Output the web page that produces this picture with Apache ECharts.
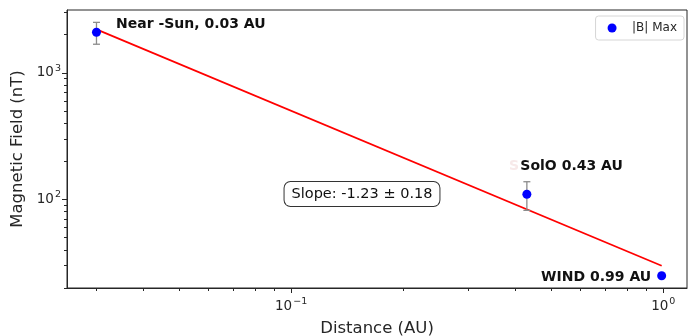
<!DOCTYPE html>
<html>
<head>
<meta charset="utf-8">
<script src="https://cdn.jsdelivr.net/npm/echarts@6/dist/echarts.min.js"></script>
<style>
  html, body { margin: 0; padding: 0; background: #fff; }
  #chart { width: 697px; height: 336px; }
</style>
</head>
<body>
<div id="chart"></div>
<script>
// spacecraft measurements
const labels = ['Near -Sun, 0.03 AU', 'SolO 0.43 AU', 'WIND 0.99 AU']
const distance = [0.03, 0.43, 0.99]
const bMax = [2090, 110, 25]
const bErr = [410, 28, 0]

// power-law fit drawn between its two ends
const fitX = [0.03, 0.99]
const fitY = [2200, 30]
const slopeText = 'Slope: -1.23 ± 0.18'

// ticks
const xMajorTicks = [0.1, 1]
const xMinorTicks = [0.03, 0.04, 0.05, 0.06, 0.07, 0.08, 0.09, 0.2, 0.3, 0.4, 0.5, 0.6, 0.7, 0.8, 0.9]
const yMajorTicks = [100, 1000]
const yMinorTicks = [20, 30, 40, 50, 60, 70, 80, 90, 200, 300, 400, 500, 600, 700, 800, 900, 2000, 3000]

const FONT = 'DejaVu Sans'
const INK = '#262626'

function powLabel(v) {
  const e = Math.round(Math.log10(v))
  if (Math.abs(Math.log10(v) - e) > 1e-6) return ''
  return '{b|10}{s|' + String(e).replace('-', '\u2212') + '}'
}
const rich = {
  b: { fontFamily: FONT, fontSize: 13.5, color: INK },
  s: { fontFamily: FONT, fontSize: 9.5, color: INK, padding: [0, 0, 9, 1] }
}

const labelLayout = [
  { position: 'right', offset: [10, -8] },
  { position: 'right', offset: [-16, -28] },
  { position: 'left', offset: [-1, 2] }
]

const points = distance.map((d, i) => ({
  value: [d, bMax[i]],
  label: {
    show: true,
    formatter: labels[i],
    position: labelLayout[i].position,
    offset: labelLayout[i].offset,
    fontFamily: FONT,
    fontWeight: 'bold',
    fontSize: 14,
    color: '#111'
  }
}))
const errData = []
distance.forEach((d, i) => {
  if (bErr[i] > 0) errData.push([d, bMax[i] - bErr[i], bMax[i] + bErr[i]])
})

const xBase = { type: 'log', logBase: 10, min: 0.025, max: 1.158, position: 'bottom', splitLine: { show: false } }
const yBase = { type: 'log', logBase: 10, min: 20, max: 3130, position: 'left', splitLine: { show: false } }

const chart = echarts.init(document.getElementById('chart'))
chart.setOption({
  animation: false,
  grid: {
    left: 67, right: 10, top: 10, bottom: 48,
    show: true, borderColor: INK, borderWidth: 1,
    containLabel: false, outerBoundsMode: 'none'
  },
  legend: {
    data: ['|B| Max'],
    right: 13, top: 16,
    orient: 'vertical',
    icon: 'circle',
    itemWidth: 30, itemHeight: 9,
    padding: [6, 7, 6, 12],
    borderColor: '#d6d6d6', borderWidth: 1, borderRadius: 3,
    textStyle: { fontFamily: FONT, fontSize: 12, color: INK }
  },
  xAxis: [
    Object.assign({}, xBase, {
      name: 'Distance (AU)',
      nameLocation: 'middle',
      nameGap: 32,
      nameTextStyle: { fontFamily: FONT, fontSize: 16.5, color: INK },
      axisLine: { show: true, onZero: false, lineStyle: { color: INK, width: 1 } },
      axisTick: { show: true, customValues: xMajorTicks, length: 5, lineStyle: { color: INK } },
      axisLabel: { customValues: xMajorTicks, formatter: powLabel, rich: rich, margin: 9 }
    }),
    Object.assign({}, xBase, {
      axisLine: { show: false, onZero: false },
      axisTick: { show: true, customValues: xMinorTicks, length: 3, lineStyle: { color: INK } },
      axisLabel: { show: false }
    })
  ],
  yAxis: [
    Object.assign({}, yBase, {
      name: 'Magnetic Field (nT)',
      nameLocation: 'middle',
      nameGap: 41,
      nameTextStyle: { fontFamily: FONT, fontSize: 16.5, color: INK },
      axisLine: { show: true, onZero: false, lineStyle: { color: INK, width: 1 } },
      axisTick: { show: true, customValues: yMajorTicks, length: 5, lineStyle: { color: INK } },
      axisLabel: { customValues: yMajorTicks, formatter: powLabel, rich: rich, margin: 6 }
    }),
    Object.assign({}, yBase, {
      axisLine: { show: false, onZero: false },
      axisTick: { show: true, customValues: yMinorTicks, length: 3, lineStyle: { color: INK } },
      axisLabel: { show: false }
    })
  ],
  graphic: [
    {
      type: 'text', x: 514, y: 166, z: 1,
      style: { text: 'S', font: 'bold 14px "DejaVu Sans"', fill: '#f7e9e9', align: 'center', verticalAlign: 'middle' }
    },
    {
      type: 'text', x: 362, y: 194, z: 100,
      style: {
        text: slopeText, font: '14.5px "DejaVu Sans"', fill: '#111',
        align: 'center', verticalAlign: 'middle',
        backgroundColor: '#fff', borderColor: '#333', borderWidth: 1, borderRadius: 6,
        padding: [5, 7, 4, 7]
      }
    }
  ],
  series: [
    {
      name: 'fit',
      type: 'line',
      data: fitX.map((x, i) => [x, fitY[i]]),
      showSymbol: false,
      silent: true,
      z: 2,
      lineStyle: { color: '#ff0000', width: 1.7 }
    },
    {
      name: 'err',
      type: 'custom',
      data: errData,
      z: 3,
      silent: true,
      encode: { x: 0, y: [1, 2] },
      renderItem(params, api) {
        const top = api.coord([api.value(0), api.value(2)])
        const bot = api.coord([api.value(0), api.value(1)])
        const w = 3.5
        const st = { stroke: '#8c8c8c', lineWidth: 1.3 }
        return {
          type: 'group',
          children: [
            { type: 'line', shape: { x1: top[0], y1: top[1], x2: bot[0], y2: bot[1] }, style: st },
            { type: 'line', shape: { x1: top[0] - w, y1: top[1], x2: top[0] + w, y2: top[1] }, style: st },
            { type: 'line', shape: { x1: bot[0] - w, y1: bot[1], x2: bot[0] + w, y2: bot[1] }, style: st }
          ]
        }
      }
    },
    {
      name: '|B| Max',
      type: 'scatter',
      data: points,
      symbolSize: 9,
      z: 5,
      itemStyle: { color: '#0000ff', opacity: 1 }
    }
  ]
})
</script>
</body>
</html>
